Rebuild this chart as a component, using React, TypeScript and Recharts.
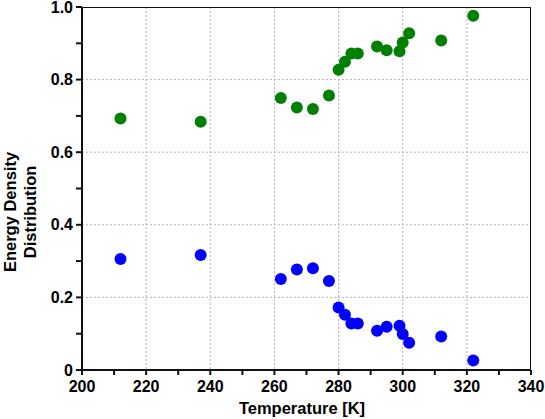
import React from 'react';
import { ScatterChart, Scatter, XAxis, YAxis, CartesianGrid, Label } from 'recharts';

const temperature = [212, 237, 262, 267, 272, 277, 280, 282, 284, 286, 292, 295, 299, 300, 302, 312, 322];
const greenValues = [0.693, 0.684, 0.749, 0.723, 0.719, 0.756, 0.827, 0.849, 0.872, 0.872, 0.891, 0.881, 0.878, 0.902, 0.928, 0.908, 0.976];
const blueValues = [0.306, 0.317, 0.251, 0.277, 0.28, 0.245, 0.172, 0.152, 0.128, 0.128, 0.108, 0.119, 0.122, 0.099, 0.075, 0.092, 0.026];

const xTicks = [200, 210, 220, 230, 240, 250, 260, 270, 280, 290, 300, 310, 320, 330, 340];
const yTicks = [0, 0.1, 0.2, 0.3, 0.4, 0.5, 0.6, 0.7, 0.8, 0.9, 1.0];
const gridX = [220, 240, 260, 280, 300, 320];
const gridY = [0.2, 0.4, 0.6, 0.8];
const xDomain = [200, 340];
const yDomain = [0, 1];

const greenData = temperature.map((t, i) => ({ t, v: greenValues[i] }));
const blueData = temperature.map((t, i) => ({ t, v: blueValues[i] }));
const frameData = [
  { t: xDomain[0], v: yDomain[0] },
  { t: xDomain[1], v: yDomain[0] },
  { t: xDomain[1], v: yDomain[1] },
  { t: xDomain[0], v: yDomain[1] },
  { t: xDomain[0], v: yDomain[0] },
];

const FONT = '"Liberation Sans", Arial, sans-serif';
const INK = { stroke: '#111111', strokeWidth: 2, fill: 'none' };

const fmtX = (v: number) => (v % 20 === 0 ? String(v) : '');
const fmtY = (v: number) => {
  const k = Math.round(v * 10);
  if (k % 2 !== 0) return '';
  return k === 0 ? '0' : v.toFixed(1);
};

const BottomTick = (props: any) => {
  const x = Number(props.x);
  const y = Number(props.y);
  const label = fmtX(props.payload.value);
  return (
    <g>
      <path d={`M${x},${y}V${y + 5}`} style={INK} />
      {label && (
        <text x={x} y={y + 11} dy="0.71em" textAnchor="middle" fontFamily={FONT} fontWeight={700} fontSize={16} fill="#000">
          {label}
        </text>
      )}
    </g>
  );
};

const TopTick = (props: any) => {
  const x = Number(props.x);
  const y = Number(props.y);
  return <path d={`M${x},${y}V${y + 5}`} style={INK} />;
};

const LeftTick = (props: any) => {
  const x = Number(props.x);
  const y = Number(props.y);
  const label = fmtY(props.payload.value);
  return (
    <g>
      <path d={`M${x - 6},${y}H${x}`} style={INK} />
      {label && (
        <text x={x - 9} y={y} dy="0.355em" textAnchor="end" fontFamily={FONT} fontWeight={700} fontSize={16} fill="#000">
          {label}
        </text>
      )}
    </g>
  );
};

const RightTick = (props: any) => {
  const x = Number(props.x);
  const y = Number(props.y);
  return <path d={`M${x - 5},${y}H${x}`} style={INK} />;
};

const dot = (color: string) => (props: any) => (
  <circle cx={props.cx} cy={props.cy} r={6} fill={color} stroke="none" />
);
const noDot = () => <g />;

const YLabel = () => (
  <text
    transform="translate(0,212) rotate(-90)"
    textAnchor="middle"
    fontFamily={FONT}
    fontWeight={700}
    fontSize={16.5}
    fill="#000"
  >
    <tspan x={0} y={16}>Energy Density</tspan>
    <tspan x={0} y={36}>Distribution</tspan>
  </text>
);

const XLabel = () => (
  <text x={302} y={414} textAnchor="middle" fontFamily={FONT} fontWeight={700} fontSize={16.5} fill="#000">
    Temperature [K]
  </text>
);

export default function App() {
  return (
    <div style={{ position: 'absolute', left: 0, top: 0, width: 545, height: 419, background: '#fff' }}>
      <ScatterChart width={545} height={419} margin={{ top: 7, right: 14, bottom: 0, left: 0 }}>
        <CartesianGrid
          stroke="#b4b4b4"
          strokeDasharray="2 2"
          strokeWidth={1}
          verticalValues={gridX}
          horizontalValues={gridY}
        />
        <XAxis
          dataKey="t"
          type="number"
          domain={xDomain}
          ticks={xTicks}
          interval={0}
          allowDataOverflow
          height={49}
          tick={BottomTick}
          tickSize={0}
          tickMargin={0}
          tickLine={false}
          axisLine={INK}
        >
          <Label content={XLabel} />
        </XAxis>
        <XAxis
          xAxisId="top"
          orientation="top"
          type="number"
          domain={xDomain}
          ticks={xTicks}
          interval={0}
          allowDataOverflow
          height={0}
          mirror
          tick={TopTick}
          tickSize={0}
          tickMargin={0}
          tickLine={false}
          axisLine={INK}
        />
        <YAxis
          dataKey="v"
          type="number"
          domain={yDomain}
          ticks={yTicks}
          interval={0}
          allowDataOverflow
          width={82}
          tick={LeftTick}
          tickSize={0}
          tickMargin={0}
          tickLine={false}
          axisLine={INK}
        >
          <Label content={YLabel} />
        </YAxis>
        <YAxis
          yAxisId="right"
          orientation="right"
          type="number"
          domain={yDomain}
          ticks={yTicks}
          interval={0}
          allowDataOverflow
          width={0}
          mirror
          tick={RightTick}
          tickSize={0}
          tickMargin={0}
          tickLine={false}
          axisLine={INK}
        />
        <Scatter
          data={frameData}
          line={INK}
          lineType="joint"
          shape={noDot}
          fill="none"
          isAnimationActive={false}
        />
        <Scatter data={greenData} fill="#008000" shape={dot('#008000')} isAnimationActive={false} />
        <Scatter data={blueData} fill="#0000ff" shape={dot('#0000ff')} isAnimationActive={false} />
      </ScatterChart>
    </div>
  );
}
